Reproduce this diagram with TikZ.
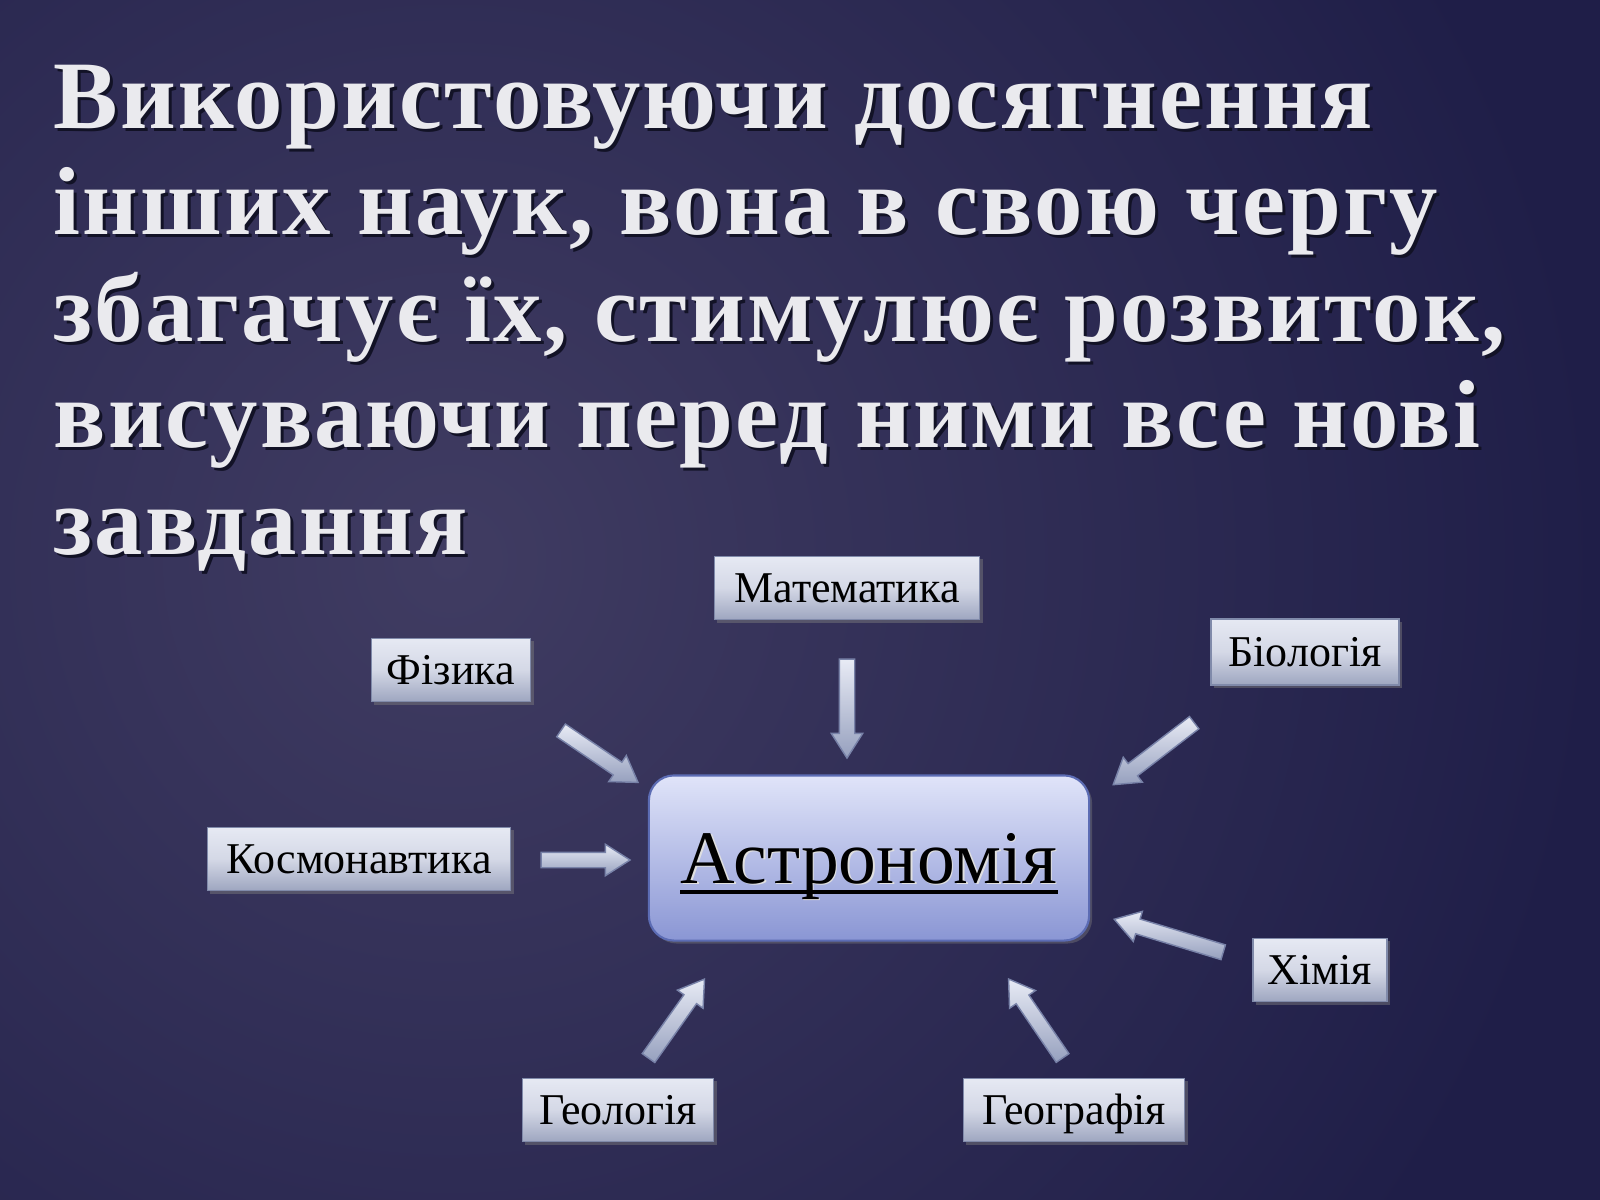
\documentclass[tikz,border=0pt]{standalone}
\usepackage{fontspec}
\setmainfont{Liberation Serif}
\newfontfamily\headfont[LetterSpace=2.3]{Liberation Serif}
\usepackage{tikz}
\usetikzlibrary{positioning,arrows.meta,shapes.arrows,shadows,calc}

\definecolor{bglight}{RGB}{64,60,98}
\definecolor{bgdark}{RGB}{31,30,72}
\definecolor{headcol}{RGB}{234,234,238}
\definecolor{headshade}{RGB}{18,18,38}
\definecolor{boxtop}{RGB}{230,233,243}
\definecolor{boxmid}{RGB}{212,216,230}
\definecolor{boxbot}{RGB}{158,166,192}
\definecolor{boxedge}{RGB}{128,138,170}
\definecolor{astrotop}{RGB}{224,228,249}
\definecolor{astrobot}{RGB}{138,150,212}
\definecolor{astroedge}{RGB}{92,108,180}
\definecolor{arrowtop}{RGB}{232,235,245}
\definecolor{arrowbot}{RGB}{150,160,190}
\definecolor{arrowedge}{RGB}{120,130,168}

% block arrow between two named coordinates
\newcommand{\blockarrow}[2]{%
  \path let \p1=($(#2)-(#1)$), \n1={atan2(\y1,\x1)}, \n2={veclen(\x1,\y1)} in
    node[barrow, minimum height=\n2, rotate=\n1] at ($(#1)!0.5!(#2)$) {};}

\begin{document}
\begin{tikzpicture}[x=0.01cm,y=-0.01cm,
  headline/.style={anchor=base west, inner sep=0pt, font=\headfont\bfseries\fontsize{27.5}{30}\selectfont},
  subject/.style={draw=boxedge, line width=0.5pt, top color=boxtop, bottom color=boxbot, middle color=boxmid,
    minimum height=0.63cm, inner sep=0pt, text height=10pt, text depth=2pt, text=black,
    font=\fontsize{12.5}{14}\selectfont,
    drop shadow={opacity=0.45, shadow xshift=0.03cm, shadow yshift=-0.03cm}},
  centre/.style={draw=astroedge, line width=0.6pt, rounded corners=0.25cm, top color=astrotop, bottom color=astrobot,
    minimum width=4.4cm, minimum height=1.65cm, inner sep=0pt,
    drop shadow={opacity=0.4, shadow xshift=0.03cm, shadow yshift=-0.03cm}},
  astrolabel/.style={inner sep=0pt, text=black, font=\fontsize{21.5}{24}\selectfont},
  barrow/.style={single arrow, draw=arrowedge, line width=0.4pt, top color=arrowtop, bottom color=arrowbot,
    inner xsep=0pt, inner ysep=0.07cm, single arrow head extend=0.08cm, single arrow tip angle=65}]
\useasboundingbox (0,0) rectangle (1600,1200);

% background
\fill[bgdark] (0,0) rectangle (1600,1200);
\begin{scope}
  \clip (0,0) rectangle (1600,1200);
  \shade[inner color=bglight, outer color=bgdark] (450,560) circle (1150);
\end{scope}

% title lines with shadow
\foreach \i/\ln in {0/{Використовуючи досягнення}, 1/{інших наук, вона в свою чергу},
    2/{збагачує їх, стимулює розвиток,}, 3/{висуваючи перед ними все нові}, 4/{завдання}} {
  \node[headline, text=headshade] (headsh\i) at (56,131+\i*106.5) {\ln};
  \node[headline, text=headcol] (head\i) at (53,128+\i*106.5) {\ln};
}

% subjects
\node[subject, minimum width=2.65cm] (math) at (847,588) {Математика};
\node[subject, minimum width=1.59cm] (phys) at (451,670) {Фізика};
\node[subject, minimum width=1.88cm, minimum height=0.66cm] (bio) at (1305,652) {Біологія};
\node[subject, minimum width=3.03cm] (cosmo) at (359,859) {Космонавтика};
\node[subject, minimum width=1.34cm] (chem) at (1320,970) {Хімія};
\node[subject, minimum width=1.91cm] (geol) at (618,1110) {Геологія};
\node[subject, minimum width=2.21cm] (geog) at (1074,1110) {Географія};

% centre
\node[centre] (astro) at (869,858) {};
\node[astrolabel, text=white!75!gray] (astrosh) at ([xshift=0.015cm,yshift=-0.095cm]astro.center) {Астрономія};
\node[astrolabel] (astrolbl) at ([yshift=-0.08cm]astro.center) {Астрономія};
\draw[line width=0.04cm] ([yshift=-0.09cm]astrolbl.base west) -- ([yshift=-0.09cm]astrolbl.base east);

% arrow ends
\coordinate (physA) at (556,727);  \coordinate (physB) at (633,779);
\coordinate (mathA) at (847,653);  \coordinate (mathB) at (847,752);
\coordinate (bioA) at (1199,719);  \coordinate (bioB) at (1118,781);
\coordinate (cosmoA) at (535,860); \coordinate (cosmoB) at (624,860);
\coordinate (chemA) at (1229,954); \coordinate (chemB) at (1120,921);
\coordinate (geolA) at (645,1063); \coordinate (geolB) at (701,984);
\coordinate (geogA) at (1066,1063); \coordinate (geogB) at (1012,984);

\foreach \s in {phys,math,bio,cosmo,chem,geol,geog} {
  \blockarrow{\s A}{\s B}
}
\end{tikzpicture}
\end{document}
